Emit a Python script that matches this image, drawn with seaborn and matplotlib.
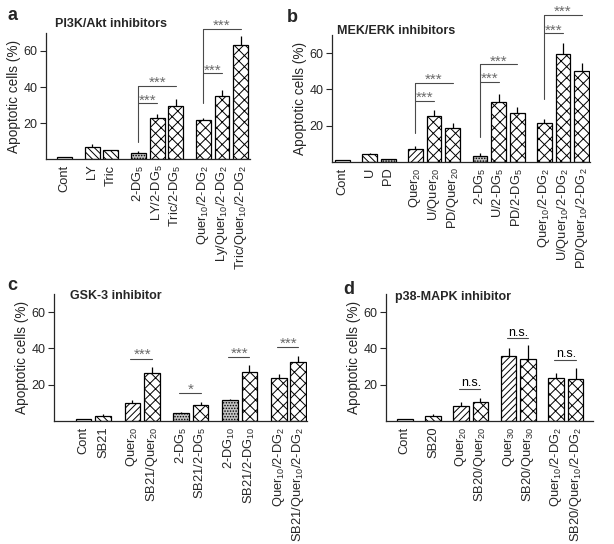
import numpy as np
import pandas as pd
import matplotlib
matplotlib.use('Agg')
import matplotlib.pyplot as plt
import seaborn as sns

# ---- panel a: PI3K/Akt inhibitors
a_labels = ['Cont', 'LY', 'Tric', '2-DG$_5$', 'LY/2-DG$_5$', 'Tric/2-DG$_5$',
            'Quer$_{10}$/2-DG$_2$', 'Ly/Quer$_{10}$/2-DG$_2$', 'Tric/Quer$_{10}$/2-DG$_2$']
a_values = [1.3, 6.9, 4.8, 3.5, 23.0, 29.3, 21.5, 35.0, 63.5]
a_errors = [0.0, 1.3, 0.0, 0.9, 2.0, 3.8, 1.5, 3.3, 4.8]
a_groups = [1, 2, 3, 3]
a_fills = ['none', 'back', 'back', 'dots', 'cross', 'cross', 'cross', 'cross', 'cross']
# (reference bar, start of vertical, [target bars], [line heights])
a_brackets = [(3, 9.6, [4, 5], [30.9, 40.6]), (6, 30.9, [7, 8], [47.6, 72.2])]

# ---- panel b: MEK/ERK inhibitors
b_labels = ['Cont', 'U', 'PD', 'Quer$_{20}$', 'U/Quer$_{20}$', 'PD/Quer$_{20}$',
            '2-DG$_5$', 'U/2-DG$_5$', 'PD/2-DG$_5$',
            'Quer$_{10}$/2-DG$_2$', 'U/Quer$_{10}$/2-DG$_2$', 'PD/Quer$_{10}$/2-DG$_2$']
b_values = [1.1, 4.4, 1.6, 7.3, 25.6, 19.0, 3.5, 33.3, 27.0, 21.6, 59.4, 50.1]
b_errors = [0.0, 0.6, 0.0, 1.7, 3.1, 2.6, 1.6, 4.4, 3.5, 2.2, 6.0, 4.7]
b_groups = [1, 2, 3, 3, 3]
b_fills = ['none', 'back', 'dots', 'fwd', 'cross', 'cross', 'dots', 'cross', 'cross',
           'cross', 'cross', 'cross']
b_brackets = [(3, 15.9, [4, 5], [33.8, 43.7]), (6, 13.7, [7, 8], [44.0, 53.9]),
              (9, 34.7, [10, 11], [70.9, 81.0])]

# ---- panel c: GSK-3 inhibitor
c_labels = ['Cont', 'SB21', 'Quer$_{20}$', 'SB21/Quer$_{20}$', '2-DG$_5$', 'SB21/2-DG$_5$',
            '2-DG$_{10}$', 'SB21/2-DG$_{10}$', 'Quer$_{10}$/2-DG$_2$', 'SB21/Quer$_{10}$/2-DG$_2$']
c_values = [1.3, 2.7, 9.9, 26.5, 4.4, 9.0, 11.5, 27.2, 23.6, 32.4]
c_errors = [0.0, 1.0, 1.4, 3.3, 0.7, 1.2, 0.9, 3.5, 2.5, 3.4]
c_groups = [2, 2, 2, 2, 2]
c_fills = ['none', 'back', 'fwd', 'cross', 'dots', 'cross', 'dots', 'cross', 'cross', 'cross']
c_pairs = [(2, 3, 34.4, '***'), (4, 5, 15.4, '*'), (6, 7, 35.3, '***'), (8, 9, 40.8, '***')]

# ---- panel d: p38-MAPK inhibitor
d_labels = ['Cont', 'SB20', 'Quer$_{20}$', 'SB20/Quer$_{20}$', 'Quer$_{30}$', 'SB20/Quer$_{30}$',
            'Quer$_{10}$/2-DG$_2$', 'SB20/Quer$_{10}$/2-DG$_2$']
d_values = [0.9, 2.6, 8.5, 10.4, 35.9, 34.3, 23.7, 23.3]
d_errors = [0.0, 1.1, 1.9, 2.2, 4.5, 7.4, 2.8, 6.0]
d_groups = [1, 1, 2, 2, 2]
d_fills = ['none', 'back', 'fwd', 'cross', 'fwd', 'cross', 'cross', 'cross']
d_pairs = [(2, 3, 17.6, 'n.s.'), (4, 5, 45.5, 'n.s.'), (6, 7, 33.5, 'n.s.')]

sns.set_style('ticks')
plt.rcParams['font.family'] = ['Liberation Sans', 'DejaVu Sans']
plt.rcParams['mathtext.fontset'] = 'custom'
plt.rcParams['mathtext.rm'] = 'Liberation Sans'
plt.rcParams['mathtext.default'] = 'regular'
plt.rcParams['hatch.linewidth'] = 0.7

FILLS = {'none': ('white', ''), 'back': ('white', '\\\\\\\\\\'), 'fwd': ('white', '/////'),
         'dots': ('#c4c4c4', '......'), 'cross': ('white', 'xxx')}
LINE_COL = '#4a4a4a'
STAR_COL = '#6a6a6a'


def positions(groups, gap):
    pos, x = [], 0.0
    for i, n in enumerate(groups):
        if i:
            x += gap - 1
        for _ in range(n):
            pos.append(x)
            x += 1
    return pos


def draw_panel(ax, labels, values, errors, groups, fills, gap, xlim):
    pos = positions(groups, gap)
    df = pd.DataFrame({'pos': pos, 'value': values})
    sns.barplot(data=df, x='pos', y='value', native_scale=True, width=0.8,
                color='white', edgecolor='black', linewidth=0.9, errorbar=None, ax=ax)
    bars = sorted(ax.patches, key=lambda p: p.get_x())
    for bar, f in zip(bars, fills):
        face, hatch = FILLS[f]
        bar.set_facecolor(face)
        bar.set_hatch(hatch)
    ax.errorbar(pos, values, yerr=[np.zeros(len(errors)), errors], fmt='none',
                ecolor='black', elinewidth=0.9, capsize=0)
    ax.set_xlim(pos[0] + xlim[0], pos[-1] + xlim[1])
    ax.set_ylim(0, 70)
    ax.set_yticks([20, 40, 60])
    ax.set_xticks(pos)
    ax.set_xticklabels(labels, rotation=90, fontsize=9.3)
    ax.tick_params(axis='x', length=0, pad=4)
    ax.tick_params(axis='y', length=4.5, width=0.8, labelsize=9, pad=1.5)
    ax.set_xlabel('')
    ax.set_ylabel('Apoptotic cells (%)', fontsize=9.8, labelpad=2)
    for s in ['left', 'bottom']:
        ax.spines[s].set_linewidth(0.9)
    sns.despine(ax=ax)
    return pos


def draw_brackets(ax, pos, brackets):
    for ref, base, targets, heights in brackets:
        ax.plot([pos[ref], pos[ref]], [base, max(heights)], color=LINE_COL, lw=0.8, clip_on=False)
        for t, h in zip(targets, heights):
            ax.plot([pos[ref], pos[t]], [h, h], color=LINE_COL, lw=0.8, clip_on=False)
            ax.text((pos[ref] + pos[t]) / 2, h - 0.6, '***', ha='center', va='baseline',
                    fontsize=11, color=STAR_COL, clip_on=False)


def draw_pairs(ax, pos, pairs, col, star):
    for i, j, h, txt in pairs:
        ax.plot([pos[i] - 0.1, pos[j]], [h, h], color=LINE_COL, lw=0.8, clip_on=False)
        if star:
            ax.text((pos[i] + pos[j]) / 2, h - 0.3, txt, ha='center', va='baseline',
                    fontsize=11, color=col, clip_on=False)
        else:
            ax.text((pos[i] + pos[j]) / 2, h + 1.6, txt, ha='center', va='baseline',
                    fontsize=9, color=col, clip_on=False)


fig = plt.figure(figsize=(6.14, 5.44), dpi=100)
W, H = 614.0, 544.0


def rect(x0, y_top, x1, y_bot):
    return [x0 / W, 1 - y_bot / H, (x1 - x0) / W, (y_bot - y_top) / H]


ax_a = fig.add_axes(rect(46, 33, 250, 159))
ax_b = fig.add_axes(rect(332, 35, 590, 162))
ax_c = fig.add_axes(rect(54, 294, 307, 421))
ax_d = fig.add_axes(rect(386, 294, 593, 421))

pa = draw_panel(ax_a, a_labels, a_values, a_errors, a_groups, a_fills, 1.48, (-1.0, 0.5))
draw_brackets(ax_a, pa, a_brackets)
pb = draw_panel(ax_b, b_labels, b_values, b_errors, b_groups, b_fills, 1.47, (-0.55, 0.45))
draw_brackets(ax_b, pb, b_brackets)
pc = draw_panel(ax_c, c_labels, c_values, c_errors, c_groups, c_fills, 1.5, (-1.52, 0.45))
draw_pairs(ax_c, pc, c_pairs, STAR_COL, True)
pd_ = draw_panel(ax_d, d_labels, d_values, d_errors, d_groups, d_fills, 1.45, (-0.97, 0.9))
draw_pairs(ax_d, pd_, d_pairs, 'black', False)

titles = [('PI3K/Akt inhibitors', 55, 24), ('MEK/ERK inhibitors', 337, 31),
          ('GSK-3 inhibitor', 70, 296), ('p38-MAPK inhibitor', 395, 297)]
for txt, x, y in titles:
    fig.text(x / W, 1 - y / H, txt, fontsize=9, fontweight='bold', ha='left', va='center')

letters = [('a', 7, 16), ('b', 287, 18), ('c', 7, 285), ('d', 343, 289)]
for txt, x, y in letters:
    fig.text(x / W, 1 - y / H, txt, fontsize=13, fontweight='bold', ha='left', va='center')

fig.savefig('out.png', dpi=100)
